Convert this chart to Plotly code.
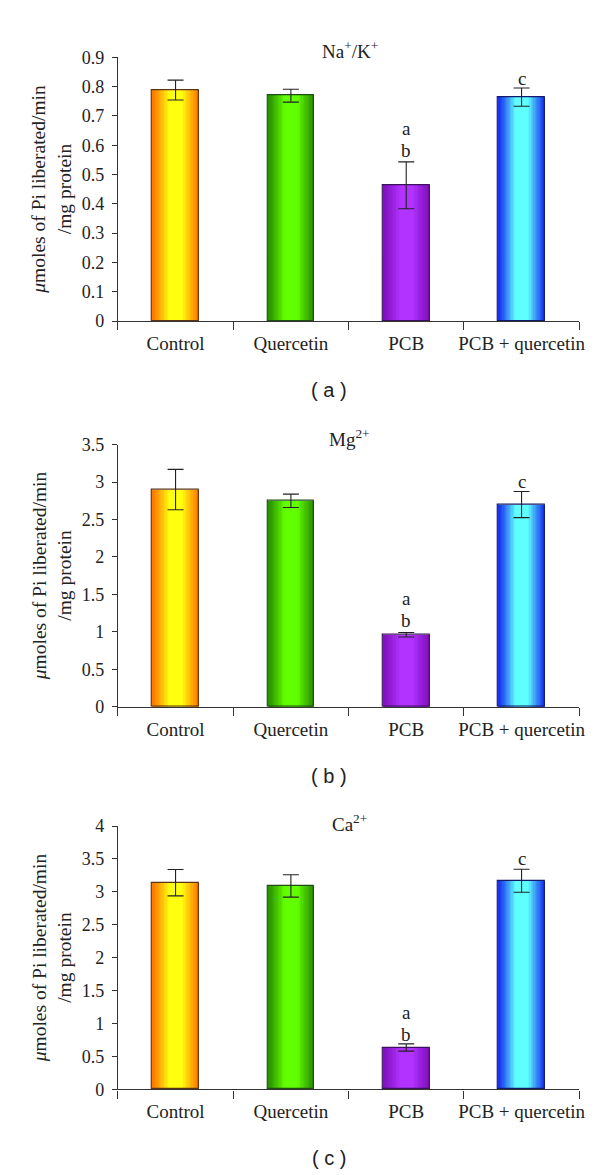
import plotly.graph_objects as go

# ---------------- data ----------------
categories = ["Control", "Quercetin", "PCB", "PCB + quercetin"]
panel_titles = ["Na<sup>+</sup>/K<sup>+</sup>", "Mg<sup>2+</sup>", "Ca<sup>2+</sup>"]
panel_labels = ["( a )", "( b )", "( c )"]

nak_values = [0.788, 0.769, 0.463, 0.764]
nak_errors = [0.034, 0.022, 0.080, 0.031]
mg_values = [2.90, 2.75, 0.962, 2.70]
mg_errors = [0.27, 0.09, 0.03, 0.175]
ca_values = [3.14, 3.09, 0.637, 3.17]
ca_errors = [0.20, 0.17, 0.055, 0.175]

y_max = [0.9, 3.5, 4.0]
y_dtick = [0.1, 0.5, 0.5]

nak_letters = [("PCB", "a", 0.656), ("PCB", "b", 0.581), ("PCB + quercetin", "c", 0.827)]
mg_letters = [("PCB", "a", 1.44), ("PCB", "b", 1.147), ("PCB + quercetin", "c", 3.005)]
ca_letters = [("PCB", "a", 1.169), ("PCB", "b", 0.831), ("PCB + quercetin", "c", 3.507)]

# ---------------- styles ----------------
edge_colors = ["#ff7c00", "#289000", "#8010bc", "#1a34f0"]
center_colors = ["#ffff10", "#62ff00", "#b232ff", "#5effff"]
outline_colors = ["#5a3414", "#1e4e12", "#3e1060", "#121a6e"]

SERIF = "Liberation Serif"
SANS = "Liberation Sans"
BAR_W = 0.405
N_LAYERS = 18

x_domain = [111 / 600, 577 / 600]
y_domains = [[0.7376, 0.9660], [0.4037, 0.6306], [0.0723, 0.3004]]
title_offsets_px = [7, 7, 3]


def hex2rgb(h):
    h = h.lstrip("#")
    return [int(h[i:i + 2], 16) for i in (0, 2, 4)]


def mix(c1, c2, t):
    a, b = hex2rgb(c1), hex2rgb(c2)
    return "rgb(%d,%d,%d)" % tuple(round(a[i] + (b[i] - a[i]) * t) for i in range(3))


panels = [
    (nak_values, nak_errors, nak_letters),
    (mg_values, mg_errors, mg_letters),
    (ca_values, ca_errors, ca_letters),
]

fig = go.Figure()
annotations = []
layout_axes = {}

for p, (vals, errs, letters) in enumerate(panels):
    sfx = "" if p == 0 else str(p + 1)
    xa, ya = "x" + sfx, "y" + sfx

    # gradient layers (outer -> inner)
    for k in range(N_LAYERS):
        f = 1 - k / N_LAYERS
        t = min(1.0, (1 - f) / 0.7) ** 1.15
        fig.add_trace(go.Bar(
            x=categories, y=vals, width=BAR_W * f,
            marker=dict(color=[mix(edge_colors[i], center_colors[i], t) for i in range(4)],
                        line=dict(width=0)),
            xaxis=xa, yaxis=ya, showlegend=False, hoverinfo="skip",
        ))
    # outline + error bars
    fig.add_trace(go.Bar(
        x=categories, y=vals, width=BAR_W,
        marker=dict(color="rgba(0,0,0,0)", line=dict(color=outline_colors, width=1.2)),
        error_y=dict(type="data", array=errs, visible=True, color="#222", thickness=1.1, width=8),
        xaxis=xa, yaxis=ya, showlegend=False,
    ))

    xkey = "xaxis" + sfx
    ykey = "yaxis" + sfx
    layout_axes[xkey] = dict(
        domain=x_domain, anchor=ya, type="category", range=[-0.5, 3.5],
        showline=True, linecolor="#333", linewidth=1.3,
        ticks="outside", tickson="boundaries", ticklen=8, tickcolor="#333", tickwidth=1.3,
        tickangle=0, ticklabelstandoff=5,
        tickfont=dict(family=SERIF, size=19, color="#222"),
        showgrid=False, zeroline=False, fixedrange=True,
    )
    layout_axes[ykey] = dict(
        domain=y_domains[p], anchor=xa, range=[0, y_max[p]], dtick=y_dtick[p], tick0=0,
        showline=True, linecolor="#333", linewidth=1.3,
        ticks="outside", ticklen=5, tickcolor="#333", tickwidth=1.3,
        tickfont=dict(family=SERIF, size=18, color="#222"),
        ticklabelstandoff=4,
        showgrid=False, zeroline=False, fixedrange=True,
    )

    # panel title
    annotations.append(dict(
        text=panel_titles[p], xref="paper", yref="paper",
        x=345 / 600, y=y_domains[p][1] + title_offsets_px[p] / 1175,
        xanchor="center", yanchor="middle", showarrow=False,
        font=dict(family=SERIF, size=19, color="#222"),
    ))
    # y-axis title
    annotations.append(dict(
        text="<i>μ</i>moles of Pi liberated/min<br>/mg protein",
        xref="paper", yref="paper", x=44 / 600,
        y=(y_domains[p][0] + y_domains[p][1]) / 2,
        xanchor="center", yanchor="middle", textangle=-90, showarrow=False,
        font=dict(family=SERIF, size=19.5, color="#222"),
    ))
    # panel label
    annotations.append(dict(
        text=panel_labels[p], xref="paper", yref="paper",
        x=324 / 600, y=y_domains[p][0] - 70 / 1175,
        xanchor="center", yanchor="middle", showarrow=False,
        font=dict(family=SANS, size=20, color="#222"),
    ))
    # significance letters
    for cat, letter, yv in letters:
        annotations.append(dict(
            text=letter, xref=xa, yref=ya, x=cat, y=yv,
            xanchor="center", yanchor="middle", showarrow=False,
            font=dict(family=SERIF, size=19, color="#222"),
        ))

fig.update_layout(
    width=600, height=1175,
    margin=dict(l=0, r=0, t=0, b=0),
    paper_bgcolor="white", plot_bgcolor="white",
    barmode="overlay", bargap=0,
    showlegend=False,
    annotations=annotations,
    **layout_axes,
)

fig.write_html("out.html")
